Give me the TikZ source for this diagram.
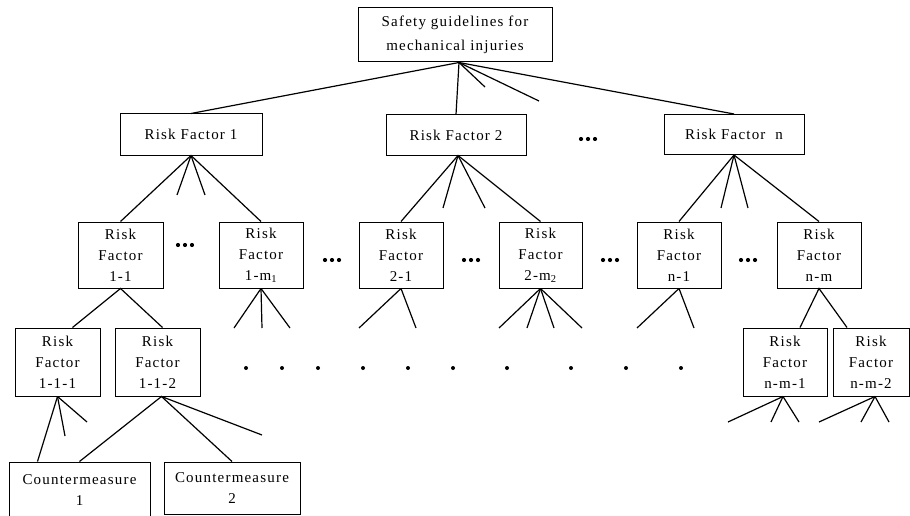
\documentclass[tikz,border=0pt]{standalone}
\usepackage{fontspec}
\newfontfamily\rf{Liberation Serif}[LetterSpace=8]
\begin{document}
\begin{tikzpicture}[x=1pt,y=-1pt,
  box/.style={draw,line width=1pt,inner sep=0pt,align=center,font=\rf\fontsize{15}{21}\selectfont},
  conn/.style={line width=1.2pt},
  dot/.style={fill=black}]
\useasboundingbox (0,0) rectangle (910,516);
% level 1
\node[box,minimum width=194pt,minimum height=54pt,font=\rf\fontsize{15}{24}\selectfont] (top) at (455,35) {Safety guidelines for\\mechanical injuries};
% level 2
\node[box,minimum width=142pt,minimum height=41pt] (rf1) at (191,134.5) {Risk Factor 1};
\node[box,minimum width=140pt,minimum height=40pt] (rf2) at (456,135) {Risk Factor 2};
\node[box,minimum width=140pt,minimum height=40pt] (rfn) at (734,134.5) {Risk Factor\ \ n};
% level 3
\node[box,minimum width=85pt,minimum height=66pt] (rf11) at (120.5,255) {Risk\\Factor\\1-1};
\node[box,minimum width=84pt,minimum height=66pt] (rf1m) at (261,255) {Risk\\Factor\\1-m\textsubscript{1}};
\node[box,minimum width=84pt,minimum height=66pt] (rf21) at (401,255) {Risk\\Factor\\2-1};
\node[box,minimum width=83pt,minimum height=66pt] (rf2m) at (540.5,255) {Risk\\Factor\\2-m\textsubscript{2}};
\node[box,minimum width=84pt,minimum height=66pt] (rfn1) at (679,255) {Risk\\Factor\\n-1};
\node[box,minimum width=84pt,minimum height=66pt] (rfnm) at (819,255) {Risk\\Factor\\n-m};
% level 4
\node[box,minimum width=85pt,minimum height=68pt] (rf111) at (57.5,362) {Risk\\Factor\\1-1-1};
\node[box,minimum width=85pt,minimum height=68pt] (rf112) at (157.5,362) {Risk\\Factor\\1-1-2};
\node[box,minimum width=84pt,minimum height=68pt] (rfnm1) at (785,362) {Risk\\Factor\\n-m-1};
\node[box,minimum width=76pt,minimum height=68pt] (rfnm2) at (871,362) {Risk\\Factor\\n-m-2};
% level 5
\node[box,minimum width=141pt,minimum height=56pt] (cm1) at (79.5,490) {Countermeasure\\1};
\node[box,minimum width=136pt,minimum height=52pt] (cm2) at (232,488) {Countermeasure\\2};
% free ends
\coordinate (a1) at (485,87); \coordinate (a2) at (539,101);
\coordinate (b1) at (177,195); \coordinate (b2) at (205,195);
\coordinate (c1) at (443,208); \coordinate (c2) at (485,208);
\coordinate (d1) at (721,208); \coordinate (d2) at (748,208);
\coordinate (e1) at (234,328); \coordinate (e2) at (262,328); \coordinate (e3) at (290,328);
\coordinate (f1) at (359,328); \coordinate (f2) at (416,328);
\coordinate (g1) at (499,328); \coordinate (g2) at (527,328); \coordinate (g3) at (554,328); \coordinate (g4) at (582,328);
\coordinate (h1) at (637,328); \coordinate (h2) at (694,328);
\coordinate (i1) at (65,436); \coordinate (i2) at (87,422);
\coordinate (j1) at (262,435);
\coordinate (k1) at (728,422); \coordinate (k2) at (771,422); \coordinate (k3) at (799,422);
\coordinate (l1) at (819,422); \coordinate (l2) at (861,422); \coordinate (l3) at (889,422);
% connectors
\coordinate (tv) at ([xshift=4pt]top.south);
\draw[conn] (rf1.north) -- (tv) -- (rf2.north);
\draw[conn] (tv) -- (a1); \draw[conn] (tv) -- (a2); \draw[conn] (tv) -- (rfn.north);
\draw[conn] (rf11.north) -- (rf1.south) -- (rf1m.north);
\draw[conn] (rf1.south) -- (b1); \draw[conn] (rf1.south) -- (b2);
\coordinate (r2v) at ([xshift=2pt]rf2.south);
\draw[conn] (rf21.north) -- (r2v) -- (rf2m.north);
\draw[conn] (r2v) -- (c1); \draw[conn] (r2v) -- (c2);
\draw[conn] (rfn1.north) -- (rfn.south) -- (rfnm.north);
\draw[conn] (rfn.south) -- (d1); \draw[conn] (rfn.south) -- (d2);
\draw[conn] ([xshift=15pt]rf111.north) -- (rf11.south) -- ([xshift=5pt]rf112.north);
\foreach \p in {e1,e2,e3} \draw[conn] (rf1m.south) -- (\p);
\foreach \p in {f1,f2} \draw[conn] (rf21.south) -- (\p);
\foreach \p in {g1,g2,g3,g4} \draw[conn] (rf2m.south) -- (\p);
\foreach \p in {h1,h2} \draw[conn] (rfn1.south) -- (\p);
\draw[conn] ([xshift=15pt]rfnm1.north) -- (rfnm.south) -- ([xshift=-24pt]rfnm2.north);
\draw[conn] (rf111.south) -- ([xshift=-42pt]cm1.north);
\foreach \p in {i1,i2} \draw[conn] (rf111.south) -- (\p);
\coordinate (r112v) at ([xshift=4pt]rf112.south);
\draw[conn] (cm1.north) -- (r112v) -- (cm2.north);
\draw[conn] (r112v) -- (j1);
\foreach \p in {k1,k2,k3} \draw[conn] ([xshift=-2pt]rfnm1.south) -- (\p);
\foreach \p in {l1,l2,l3} \draw[conn] ([xshift=4pt]rfnm2.south) -- (\p);
% ellipses
\foreach \x/\y in {588/139,185/245,332/260,471/260,610/260,748/260}
  \foreach \d in {-7,0,7} \fill[dot] (\x+\d,\y) circle (2.1pt);
\foreach \x in {246,282,318,363,408,453,507,571,626,681}
  \fill[dot] (\x,368) circle (2pt);
\end{tikzpicture}
\end{document}
